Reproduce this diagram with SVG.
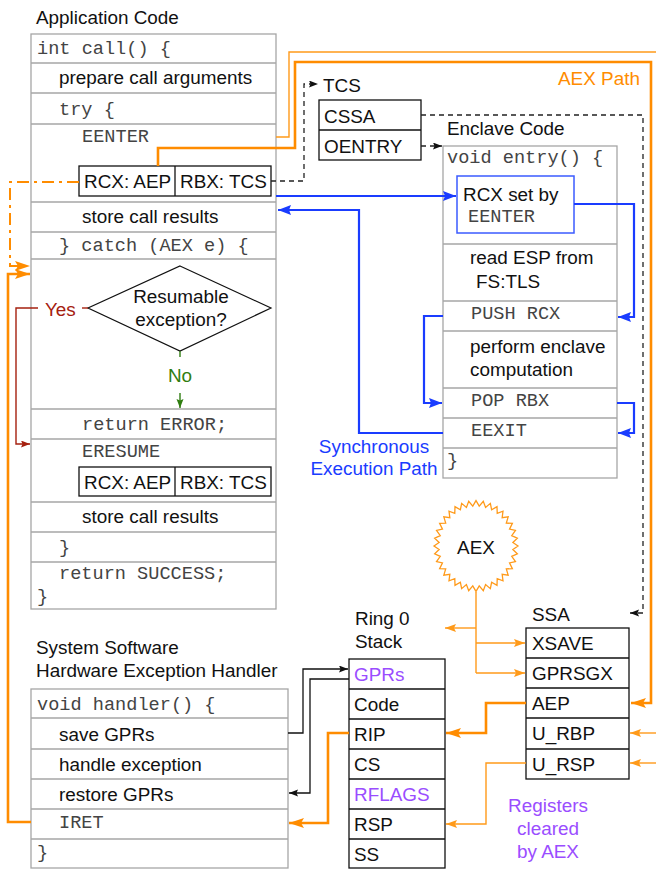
<svg xmlns="http://www.w3.org/2000/svg" width="656" height="869" viewBox="0 0 656 869">
<style>
text{font-family:"Liberation Sans",Arial,Helvetica,sans-serif;font-size:18.9px;fill:#111}
.m{font-family:"Liberation Mono","Courier New",monospace;font-size:18.6px;fill:#444}
.box{fill:#fff;stroke:#a6a6a6;stroke-width:1.3}
.sep{stroke:#a6a6a6;stroke-width:1.3}
.bk{fill:#fff;stroke:#111;stroke-width:1.3}
.bsep{stroke:#111;stroke-width:1.3}
.ot{fill:none;stroke:#ff9a1a;stroke-width:1.4}
.oT{fill:none;stroke:#ff8c00;stroke-width:2.6}
.od{fill:none;stroke:#ff8c00;stroke-width:2;stroke-dasharray:12 5 3 5}
.bl{fill:none;stroke:#1a3cff;stroke-width:2.2}
.kd{fill:none;stroke:#222;stroke-width:1.3;stroke-dasharray:5 4}
.ks{fill:none;stroke:#111;stroke-width:1.3}
.rd{fill:none;stroke:#a5200f;stroke-width:1.4}
.gr{fill:none;stroke:#2f7d10;stroke-width:1.4}
.purple{fill:#9a4dff}
.orange{fill:#ff8c00}
.blue{fill:#1a3cff}
</style>
<defs>
<marker id="aO" markerUnits="userSpaceOnUse" markerWidth="16" markerHeight="12" refX="15" refY="5" orient="auto"><path d="M0,0 L15,5 L0,10 L3,5 z" fill="#ff8c00"/></marker>
<marker id="ao" markerUnits="userSpaceOnUse" markerWidth="12" markerHeight="10" refX="11" refY="4" orient="auto"><path d="M0,0 L11,4 L0,8 L2,4 z" fill="#ff9a1a"/></marker>
<marker id="aB" markerUnits="userSpaceOnUse" markerWidth="14" markerHeight="12" refX="13" refY="5" orient="auto"><path d="M0,0 L13,5 L0,10 L2,5 z" fill="#1a3cff"/></marker>
<marker id="aK" markerUnits="userSpaceOnUse" markerWidth="10" markerHeight="8" refX="9" refY="3.5" orient="auto"><path d="M0,0 L9,3.5 L0,7 L1.5,3.5 z" fill="#111"/></marker>
<marker id="aR" markerUnits="userSpaceOnUse" markerWidth="10" markerHeight="8" refX="9" refY="3.5" orient="auto"><path d="M0,0 L9,3.5 L0,7 L1.5,3.5 z" fill="#a5200f"/></marker>
<marker id="aG" markerUnits="userSpaceOnUse" markerWidth="10" markerHeight="8" refX="9" refY="3.5" orient="auto"><path d="M0,0 L9,3.5 L0,7 L1.5,3.5 z" fill="#2f7d10"/></marker>
</defs>

<g id="app-code">
<text x="36" y="24">Application Code</text>
<rect class="box" x="31" y="34" width="245" height="575"/>
<path class="sep" d="M31,63H276M31,93H276M31,124H276M31,202H276M31,232H276M31,259H276M31,409H276M31,439H276M31,502H276M31,532H276M31,562H276"/>
<text class="m" x="37" y="54" xml:space="preserve">int call() {</text>
<text x="59" y="84">prepare call arguments</text>
<text class="m" x="59" y="115">try {</text>
<text class="m" x="82" y="142">EENTER</text>
<rect class="bk" x="79" y="166" width="192" height="30"/>
<path class="bsep" d="M175,166V196"/>
<text x="84" y="188">RCX: AEP</text>
<text x="180" y="188">RBX: TCS</text>
<text x="82" y="223">store call results</text>
<text class="m" x="59" y="251">} catch (AEX e) {</text>
<polygon points="180,266 271,308 180,351 88,308" fill="#fff" stroke="#111" stroke-width="1.2"/>
<text x="181" y="303" text-anchor="middle">Resumable</text>
<text x="181" y="326" text-anchor="middle">exception?</text>
<text x="45" y="316" style="fill:#a5200f">Yes</text>
<text x="180" y="382" text-anchor="middle" style="fill:#2f7d10">No</text>
<text class="m" x="82" y="430">return ERROR;</text>
<text class="m" x="82" y="457">ERESUME</text>
<rect class="bk" x="79" y="467" width="192" height="29"/>
<path class="bsep" d="M175,467V496"/>
<text x="84" y="489">RCX: AEP</text>
<text x="180" y="489">RBX: TCS</text>
<text x="82" y="523">store call results</text>
<text class="m" x="59" y="553">}</text>
<text class="m" x="59" y="579">return SUCCESS;</text>
<text class="m" x="37" y="602">}</text>
</g>

<g id="tcs">
<text x="323" y="92">TCS</text>
<rect class="bk" x="319" y="100" width="102" height="60"/>
<path class="bsep" d="M319,130H421"/>
<text x="324" y="123">CSSA</text>
<text x="324" y="153">OENTRY</text>
</g>

<g id="enclave-code">
<text x="447" y="135">Enclave Code</text>
<rect class="box" x="443" y="146" width="174" height="332"/>
<path class="sep" d="M443,244H617M443,301H617M443,331H617M443,388H617M443,418H617M443,448H617"/>
<text class="m" x="447" y="163" xml:space="preserve">void entry() {</text>
<rect x="457" y="176" width="117" height="57" fill="#fff" stroke="#3b5bff" stroke-width="1.5"/>
<text x="463" y="201">RCX set by</text>
<text class="m" x="468" y="222">EENTER</text>
<text x="470" y="264">read ESP from</text>
<text x="476" y="288">FS:TLS</text>
<text class="m" x="471" y="319">PUSH RCX</text>
<text x="470" y="353">perform enclave</text>
<text x="470" y="376">computation</text>
<text class="m" x="471" y="406">POP RBX</text>
<text class="m" x="471" y="436">EEXIT</text>
<text class="m" x="447" y="466">}</text>
</g>

<g id="aex">
<polygon transform="translate(476,546) scale(1,1.08)" fill="#fff" stroke="#ff9a1a" stroke-width="1.3" vector-effect="non-scaling-stroke" points="42,0 36.86,3.23 41.36,7.29 35.74,9.58 39.47,14.36 33.53,15.64 36.37,21 30.31,21.22 32.17,27 26.16,26.16 27,32.17 21.22,30.31 21,36.37 15.64,33.53 14.36,39.47 9.58,35.74 7.29,41.36 3.23,36.86 0,42 -3.23,36.86 -7.29,41.36 -9.58,35.74 -14.36,39.47 -15.64,33.53 -21,36.37 -21.22,30.31 -27,32.17 -26.16,26.16 -32.17,27 -30.31,21.22 -36.37,21 -33.53,15.64 -39.47,14.36 -35.74,9.58 -41.36,7.29 -36.86,3.23 -42,0 -36.86,-3.23 -41.36,-7.29 -35.74,-9.58 -39.47,-14.36 -33.53,-15.64 -36.37,-21 -30.31,-21.22 -32.17,-27 -26.16,-26.16 -27,-32.17 -21.22,-30.31 -21,-36.37 -15.64,-33.53 -14.36,-39.47 -9.58,-35.74 -7.29,-41.36 -3.23,-36.86 0,-42 3.23,-36.86 7.29,-41.36 9.58,-35.74 14.36,-39.47 15.64,-33.53 21,-36.37 21.22,-30.31 27,-32.17 26.16,-26.16 32.17,-27 30.31,-21.22 36.37,-21 33.53,-15.64 39.47,-14.36 35.74,-9.58 41.36,-7.29 36.86,-3.23"/>
<text x="476" y="554" text-anchor="middle">AEX</text>
</g>

<g id="ssa">
<text x="532" y="621">SSA</text>
<rect class="bk" x="526" y="628" width="103" height="151"/>
<path class="bsep" d="M526,658H629M526,688H629M526,718H629M526,749H629"/>
<text x="532" y="650">XSAVE</text>
<text x="532" y="680">GPRSGX</text>
<text x="532" y="710">AEP</text>
<text x="532" y="740">U_RBP</text>
<text x="532" y="771">U_RSP</text>
</g>

<g id="ring0-stack">
<text x="355" y="625">Ring 0</text>
<text x="355" y="648">Stack</text>
<rect class="bk" x="349" y="659" width="96" height="209"/>
<path class="bsep" d="M349,689H445M349,719H445M349,749H445M349,779H445M349,809H445M349,839H445"/>
<text x="354" y="681" class="purple">GPRs</text>
<text x="354" y="711">Code</text>
<text x="354" y="741">RIP</text>
<text x="354" y="771">CS</text>
<text x="354" y="801" class="purple">RFLAGS</text>
<text x="354" y="831">RSP</text>
<text x="354" y="861">SS</text>
</g>

<g id="handler">
<text x="36" y="654">System Software</text>
<text x="36" y="677">Hardware Exception Handler</text>
<rect class="box" x="31" y="689" width="257" height="179"/>
<path class="sep" d="M31,718H288M31,749H288M31,779H288M31,809H288M31,839H288"/>
<text class="m" x="37" y="710" xml:space="preserve">void handler() {</text>
<text x="59" y="741">save GPRs</text>
<text x="59" y="771">handle exception</text>
<text x="59" y="801">restore GPRs</text>
<text class="m" x="59" y="828">IRET</text>
<text class="m" x="37" y="858">}</text>
</g>

<g id="labels">
<text x="558" y="85" class="orange">AEX Path</text>
<text x="374" y="453" text-anchor="middle" class="blue">Synchronous</text>
<text x="374" y="475" text-anchor="middle" class="blue">Execution Path</text>
<text x="548" y="812" text-anchor="middle" class="purple">Registers</text>
<text x="548" y="835" text-anchor="middle" class="purple">cleared</text>
<text x="548" y="858" text-anchor="middle" class="purple">by AEX</text>
</g>

<g id="connectors">
<path class="ot" d="M276,137H289V52H656"/>
<path class="oT" d="M158,166V148H295V62H651V703H631" marker-end="url(#aO)"/>
<path class="od" d="M79,182H10V266H30" marker-end="url(#aO)"/>
<path class="oT" d="M31,822H8V274H30" marker-end="url(#aO)"/>
<path class="ot" d="M476,592V673"/>
<path class="ot" d="M476,628H445" marker-end="url(#ao)"/>
<path class="ot" d="M476,643H525" marker-end="url(#ao)"/>
<path class="ot" d="M476,673H525" marker-end="url(#ao)"/>
<path class="oT" d="M526,703H486V733H446" marker-end="url(#aO)"/>
<path class="ot" d="M526,763H486V824H446" marker-end="url(#ao)"/>
<path class="ot" d="M656,733H630" marker-end="url(#ao)"/>
<path class="ot" d="M656,763H630" marker-end="url(#ao)"/>
<path class="oT" d="M349,733H328V823H289" marker-end="url(#aO)"/>
<path class="kd" d="M271,181H304V84H318" marker-end="url(#aK)"/>
<path class="kd" d="M421,146H442" marker-end="url(#aK)"/>
<path class="kd" d="M421,115H643V613H630" marker-end="url(#aK)"/>
<path class="ks" d="M288,733H303V669H348" marker-end="url(#aK)"/>
<path class="ks" d="M349,679H310V793H289" marker-end="url(#aK)"/>
<path class="bl" d="M276,196H456" marker-end="url(#aB)"/>
<path class="bl" d="M443,433H359V210H278" marker-end="url(#aB)"/>
<path class="bl" d="M574,204H634V317H618" marker-end="url(#aB)"/>
<path class="bl" d="M443,316H424V403H442" marker-end="url(#aB)"/>
<path class="bl" d="M617,403H634V433H618" marker-end="url(#aB)"/>
<path class="rd" d="M82,308H88"/>
<path class="rd" d="M38,308H16V444H30" marker-end="url(#aR)"/>
<path class="gr" d="M180,351V357"/>
<path class="gr" d="M180,393V408" marker-end="url(#aG)"/>
</g>
</svg>
